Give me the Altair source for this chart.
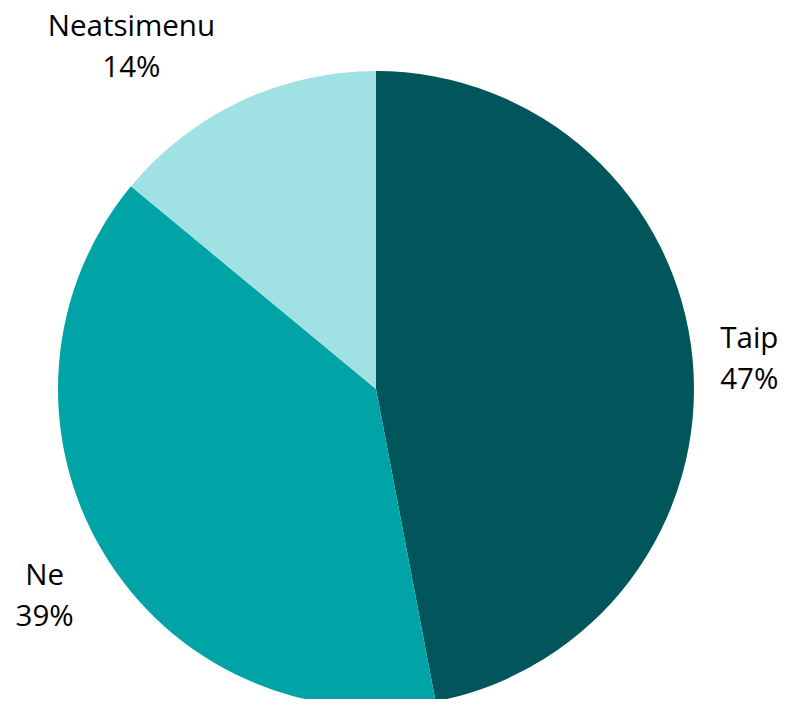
import altair as alt
import pandas as pd

categories = ["Taip", "Ne", "Neatsimenu"]
values = [47, 39, 14]
labels = ["47%", "39%", "14%"]
colors = ["#00565A", "#00A4A6", "#A0E1E3"]

df = pd.DataFrame({
    "cat": categories,
    "val": values,
    "pct": labels,
    "idx": list(range(len(categories))),
})

PAD_TOP = 14
W, H = 774, 691 - PAD_TOP
CX, CY = 368, 381 - PAD_TOP
R = 318

base = alt.Chart(df).transform_window(
    cum="sum(val)", sort=[alt.SortField("idx")]
).transform_calculate(
    start="datum.cum - datum.val",
    mid="datum.cum - datum.val / 2",
    lab="[datum.cat, datum.pct]",
)

theta_scale = alt.Scale(domain=[0, 100], range=[0, 6.283185307179586])

pie = base.mark_arc(stroke=None).encode(
    theta=alt.Theta("start:Q", scale=theta_scale, stack=None),
    theta2="cum:Q",
    color=alt.Color("cat:N", scale=alt.Scale(domain=categories, range=colors), legend=None),
    radius=alt.value(R),
    x=alt.value(CX),
    y=alt.value(CY),
)

# label placement style per category: (radius, dx, dy)
label_style = {"Taip": (380, -5, -14), "Ne": (385, 0, -9), "Neatsimenu": (382, -82, -16)}

def text_layer(cat):
    rad, dx, dy = label_style[cat]
    return base.transform_filter(f"datum.cat == '{cat}'").mark_text(
        align="center", baseline="middle", font="Open Sans", fontSize=29.5,
        lineHeight=41, color="#000000", dx=dx, dy=dy
    ).encode(
        theta=alt.Theta("mid:Q", scale=theta_scale, stack=None),
        radius=alt.value(rad),
        x=alt.value(CX),
        y=alt.value(CY),
        text=alt.Text("lab:N"),
    )

chart = alt.layer(
    pie, *[text_layer(c) for c in categories]
).properties(
    width=W, height=H, autosize=alt.AutoSizeParams(type="none"),
    padding={"top": PAD_TOP, "left": 0, "right": 0, "bottom": 0}
).configure_view(stroke=None)

chart.save("out.html", embed_options={"renderer": "svg", "actions": False})
